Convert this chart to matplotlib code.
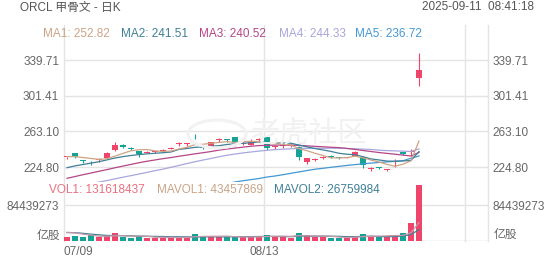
import numpy as np
import matplotlib
matplotlib.use('Agg')
import matplotlib.pyplot as plt
from matplotlib.patches import Circle

plt.rcParams['font.family'] = ['Liberation Sans', 'Noto Sans CJK SC', 'DejaVu Sans']

# daily candles 07/09 .. 09/10
opens = [235.3, 239.6, 231.8, 230.3, 232.3, 234.8, 243.1, 248.9, 245.3, 242.1,
         240.3, 241.0, 242.4, 244.5, 249.3, 249.4, 256.3, 247.8, 246.7, 253.6,
         255.0, 256.8, 250.1, 248.5, 253.6, 256.8, 246.4, 247.2, 247.2, 246.7,
         230.5, 232.1, 234.2, 236.2, 235.1, 235.0, 237.0, 235.9, 223.1, 224.4,
         222.0, 230.2, 240.7, 241.0, 320.5]
closes = [235.8, 235.3, 231.0, 229.7, 233.0, 240.2, 248.5, 246.1, 243.9, 238.5,
          240.9, 241.6, 243.0, 245.8, 249.9, 250.0, 255.6, 245.0, 251.8, 254.2,
          254.4, 250.4, 250.7, 252.5, 254.2, 245.0, 247.0, 247.8, 247.8, 235.3,
          234.2, 232.7, 235.9, 235.6, 234.5, 235.6, 240.7, 227.0, 223.7, 223.8,
          222.6, 230.8, 238.5, 241.6, 329.5]
highs = [235.9, 240.0, 232.5, 231.0, 234.5, 240.5, 251.8, 249.5, 246.0, 242.5,
         242.0, 242.5, 244.5, 246.5, 252.0, 250.2, 260.1, 248.3, 252.3, 256.5,
         255.2, 257.3, 252.5, 254.5, 256.5, 257.3, 248.5, 249.5, 249.5, 247.2,
         235.0, 234.0, 236.8, 237.5, 236.0, 236.0, 241.8, 236.5, 224.5, 224.8,
         222.8, 233.5, 241.5, 244.5, 347.5]
lows = [233.0, 235.0, 229.5, 226.5, 230.5, 234.5, 242.5, 245.5, 243.5, 235.6,
        239.5, 240.0, 241.5, 244.0, 247.5, 247.0, 254.5, 244.5, 246.2, 252.0,
        251.5, 247.5, 248.5, 248.0, 252.0, 243.5, 244.5, 245.5, 246.0, 232.4,
        228.0, 231.5, 233.5, 234.5, 233.5, 234.0, 236.5, 223.4, 220.0, 223.0,
        220.0, 225.0, 237.5, 237.0, 312.2]

ma1 = [236.0, 236.0, 235.0, 234.0, 233.0, 233.8, 236.5, 239.5, 242.3, 243.4,
       243.6, 242.2, 241.6, 242.0, 244.2, 246.1, 248.9, 249.3, 250.5, 251.3,
       252.2, 251.2, 252.3, 252.4, 252.4, 250.6, 249.9, 249.3, 248.4, 244.6,
       242.4, 239.6, 237.2, 234.7, 234.6, 234.9, 236.5, 234.7, 232.3, 230.2,
       227.6, 225.6, 227.9, 231.5, 252.82]
ma2 = [224.0, 226.0, 227.5, 229.0, 230.5, 232.5, 234.5, 236.0, 237.2, 238.2,
       239.0, 239.6, 240.2, 241.0, 243.8, 244.8, 246.0, 246.5, 247.2, 247.8,
       249.1, 249.8, 250.4, 251.0, 251.9, 251.4, 250.5, 250.8, 250.4, 248.5,
       246.5, 244.7, 243.2, 241.6, 239.6, 238.6, 238.0, 235.9, 233.5, 232.4,
       231.2, 231.0, 231.3, 231.9, 241.51]
ma3 = [212.6, 214.5, 216.5, 218.3, 220.2, 222.0, 224.0, 225.8, 227.6, 229.4,
       231.0, 232.4, 233.8, 235.0, 236.4, 237.7, 239.0, 240.2, 241.5, 243.0,
       244.2, 245.2, 246.2, 247.2, 247.9, 248.2, 248.4, 248.5, 248.4, 248.1,
       247.6, 247.1, 246.6, 246.1, 245.7, 244.8, 243.8, 242.6, 241.5, 240.4,
       239.5, 238.6, 237.6, 236.7, 240.52]
ma4 = [203.0, 204.8, 205.6, 207.0, 208.5, 210.2, 212.0, 213.8, 215.5, 217.2,
       219.0, 220.8, 222.5, 224.5, 226.5, 228.5, 230.5, 232.3, 234.0, 235.8,
       237.5, 238.8, 240.0, 241.0, 242.0, 242.8, 243.5, 244.0, 244.5, 244.8,
       244.9, 245.0, 245.0, 245.1, 245.1, 244.8, 244.5, 244.1, 243.7, 242.9,
       242.5, 242.2, 241.9, 241.6, 244.33]
ma5 = [None] * 18 + [204.5, 205.8, 207.2, 208.6, 210.0, 211.2, 212.4, 214.0,
                     215.1, 216.5, 218.0, 219.5, 221.0, 222.4, 223.4, 224.5,
                     225.5, 226.5, 227.4, 228.2, 229.0, 229.7, 230.3, 230.9,
                     231.6, 234.2, 236.72]

volumes = [10.0, 12.5, 10.0, 13.0, 10.0, 11.0, 18.0, 10.0, 7.0, 12.0,
           8.0, 8.0, 8.0, 8.0, 8.5, 9.0, 16.0, 12.0, 10.0, 9.0,
           10.0, 10.0, 8.6, 10.0, 10.0, 14.8, 11.7, 10.0, 7.8, 18.0,
           13.0, 8.6, 10.0, 7.0, 7.8, 7.0, 11.7, 17.0, 11.7, 10.0,
           10.0, 14.8, 19.5, 41.5, 131.618437]
mavol1 = [20.0, 19.0, 16.0, 14.0, 11.1, 11.3, 12.4, 12.4, 11.2, 11.6,
          11.0, 9.0, 8.6, 8.6, 8.1, 8.3, 9.9, 10.7, 11.1, 11.2,
          11.4, 10.2, 9.5, 9.5, 9.7, 10.7, 11.0, 11.3, 10.9, 12.5,
          12.1, 11.7, 11.5, 11.3, 9.3, 8.1, 8.7, 10.3, 11.0, 11.5,
          12.1, 12.9, 13.2, 19.2, 43.457869]
mavol2 = [20.0, 19.5, 18.0, 16.0, 14.5, 13.0, 13.0, 12.5, 12.0, 11.4,
          11.2, 10.7, 10.5, 10.0, 9.9, 9.7, 9.5, 9.7, 10.0, 9.7,
          9.9, 10.1, 10.1, 10.3, 10.5, 11.0, 10.6, 10.4, 10.2, 11.1,
          11.4, 11.3, 11.4, 11.1, 10.9, 10.1, 10.1, 10.8, 11.2, 10.4,
          10.1, 10.7, 11.7, 15.1, 26.759984]

price_ticks = [224.80, 263.10, 301.41, 339.71]
vol_tick = 84439273
date_labels = ['07/09', '08/13']

UP, DOWN = '#f0456a', '#14a396'
MA_COLORS = ['#cda384', '#3f7f97', '#b44687', '#a8a6de', '#4398d2']
GRID = '#e4e4e4'
TXT = '#666666'

W, H = 552, 265
fig = plt.figure(figsize=(W / 100, H / 100), dpi=100)
fig.patch.set_facecolor('white')

def fx(x):
    return x / W

def fy(y):
    return 1 - y / H

L, R = 64, 488
P_TOP, P_BOT, V_BOT = 25, 182, 241

# watermark
fig.patches.append(Circle((fx(217), fy(134)), 29 / W, transform=fig.transFigure,
                          fill=False, ec='#f2f2f2', lw=2.2, zorder=0))
fig.text(fx(250), fy(134), '老虎社区', fontsize=21, color='#f1f1f1',
         va='center', ha='left', family=['Noto Sans CJK SC'], zorder=0)

ax = fig.add_axes([fx(L), fy(P_BOT), (R - L) / W, (P_BOT - P_TOP) / H])
axv = fig.add_axes([fx(L), fy(V_BOT), (R - L) / W, (V_BOT - P_BOT) / H])
for a in (ax, axv):
    a.set_facecolor('none')
    for s in a.spines.values():
        s.set_visible(False)

n = len(closes)
idx = np.arange(n)
# 8 px per candle, first candle 3 px right of left edge
x0 = -3 / 8
ax.set_xlim(x0, x0 + (R - L) / 8)
axv.set_xlim(x0, x0 + (R - L) / 8)

# price scale: 35.5 px between price gridlines
ppx = (price_ticks[1] - price_ticks[0]) / 35.5
ax.set_ylim(price_ticks[0] - (P_BOT - 167) * ppx, price_ticks[0] + (167 - P_TOP) * ppx)
axv.set_ylim(0, vol_tick * (V_BOT - P_BOT) / 36)

for t in price_ticks:
    ax.axhline(t, color=GRID, lw=1, zorder=0)
axv.axhline(vol_tick, color=GRID, lw=1, zorder=0)
axv.axhline(0, color='#d8d8d8', lw=1, zorder=0)

# vertical grid lines
for gx in [L, 264, 465, R]:
    fig.add_artist(plt.Line2D([fx(gx), fx(gx)], [fy(P_TOP), fy(V_BOT)],
                              color=GRID, lw=1, zorder=0))

# candles
cols = [UP if c >= o else DOWN for o, c in zip(opens, closes)]
ax.vlines(idx, lows, highs, colors=cols, lw=0.8, zorder=2)
bottoms = [min(o, c) for o, c in zip(opens, closes)]
heights = [max(abs(c - o), 1.0) for o, c in zip(opens, closes)]
ax.bar(idx, heights, bottom=bottoms, width=0.75, color=cols, lw=0, zorder=3)

for ma, c in zip([ma5, ma4, ma3, ma2, ma1], MA_COLORS[::-1]):
    ys = np.array([np.nan if v is None else v for v in ma], dtype=float)
    ax.plot(idx, ys, color=c, lw=0.9, zorder=4)

# volume
vols = np.array(volumes) * 1e6
axv.bar(idx, vols, width=0.75, color=cols, lw=0, zorder=2)
axv.plot(idx, np.array(mavol2) * 1e6, color=MA_COLORS[1], lw=0.9, zorder=3)
axv.plot(idx, np.array(mavol1) * 1e6, color='#c59aa8', lw=0.9, zorder=3)

ax.set_xticks([])
axv.set_xticks([])
ax.set_yticks(price_ticks)
ax.set_yticklabels([f'{t:.2f}' for t in price_ticks])
ax.tick_params(axis='y', length=0, labelleft=True, labelright=True, pad=3.5,
               labelsize=8.5, labelcolor=TXT)
axv.set_yticks([vol_tick])
axv.set_yticklabels([str(vol_tick)])
axv.tick_params(axis='y', length=0, labelleft=True, labelright=True, pad=3.5,
                labelsize=8.5, labelcolor=TXT)

fs = 8.5
fig.text(fx(60), fy(235.5), '亿股', ha='right', va='center', fontsize=fs, color=TXT)
fig.text(fx(494), fy(234.5), '亿股', ha='left', va='center', fontsize=fs, color=TXT)

fig.text(fx(64), fy(252), date_labels[0], ha='left', va='center', fontsize=fs, color=TXT)
fig.text(fx(264), fy(252), date_labels[1], ha='center', va='center', fontsize=fs, color=TXT)

fig.text(fx(20.5), fy(7.5), 'ORCL 甲骨文 - 日K', ha='left', va='center', fontsize=fs, color='#555555')
fig.text(fx(534), fy(7.5), '2025-09-11  08:41:18', ha='right', va='center', fontsize=fs, color='#555555')

ma_vals = [ma1[-1], ma2[-1], ma3[-1], ma4[-1], ma5[-1]]
ma_x = [42.7, 120.7, 199.3, 278.7, 355.3]
for k, (v, xx) in enumerate(zip(ma_vals, ma_x)):
    fig.text(fx(xx), fy(34), f'MA{k + 1}: {v:.2f}', ha='left', va='center',
             fontsize=fs, color=MA_COLORS[k])

fig.text(fx(49.3), fy(190), f'VOL1: {int(round(volumes[-1] * 1e6))}', ha='left', va='center',
         fontsize=fs, color='#e9707f')
fig.text(fx(156.7), fy(190), f'MAVOL1: {int(round(mavol1[-1] * 1e6))}', ha='left', va='center',
         fontsize=fs, color='#c9a486')
fig.text(fx(274), fy(190), f'MAVOL2: {int(round(mavol2[-1] * 1e6))}', ha='left', va='center',
         fontsize=fs, color=MA_COLORS[1])

fig.savefig('out.png', dpi=100)
